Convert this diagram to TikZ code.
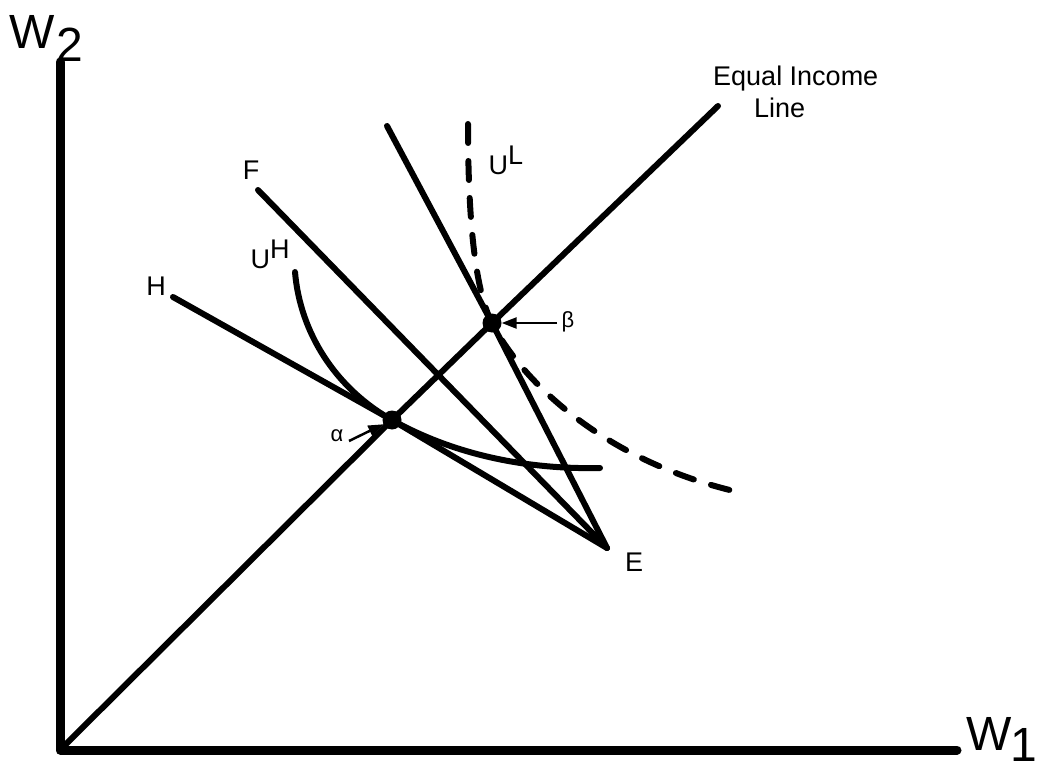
\documentclass[tikz,border=0pt]{standalone}
\usepackage{fontspec}
\setmainfont{Liberation Sans}
\usetikzlibrary{arrows.meta}
\begin{document}
\begin{tikzpicture}[x=1pt,y=-1pt,
  axis/.style={line width=9pt,line cap=round,line join=round},
  thick line/.style={line width=6pt,line cap=round},
  dashline/.style={line width=6pt,line cap=round,dash pattern=on 19pt off 18pt},
  lbl/.style={font=\fontsize{27}{30}\selectfont,inner sep=0pt},
  small lbl/.style={font=\fontsize{22}{24}\selectfont,inner sep=0pt},
  big lbl/.style={font=\fontsize{48}{52}\selectfont,inner sep=0pt,anchor=base west},
  ptr/.style={line width=2.5pt,-{Triangle[length=15pt,width=11pt]}},
  dot/.style={circle,fill=black,inner sep=0pt,minimum size=19pt}]
\useasboundingbox (0,0) rectangle (1039,773);
% axes
\coordinate (O) at (60,750);
\coordinate (Ytop) at (60,62);
\coordinate (Xend) at (957,750);
\draw[axis] (Ytop) -- (O) -- (Xend);
\node[big lbl] (w2) at (9,49) {W\kern2pt\raisebox{-13pt}{2}};
\node[big lbl] (w1) at (966,750) {W\kern-1pt\raisebox{-11pt}{1}};
% key points
\coordinate (E) at (607,548);
\coordinate (Htop) at (173,297);
\coordinate (Ftop) at (258,190);
\coordinate (Ttop) at (387,126);
\coordinate (EItop) at (718,106);
\node[dot] (alpha) at (392,420) {};
\node[dot] (beta) at (492,323) {};
% equal income line
\draw[thick line] (O) -- (alpha.center) -- (beta.center) -- (EItop);
% budget lines
\draw[thick line] (Htop) -- (alpha.center) -- (E);
\draw[thick line] (Ftop) -- (E);
\draw[thick line] (Ttop) -- (beta.center) -- (E);
% indifference curves
\draw[thick line] (295,272) .. controls (300,332) and (335,388) .. (alpha.center)
  .. controls (440,447) and (510,470) .. (600,468);
\draw[dashline] (468,124) .. controls (468,220) and (475,290) .. (beta.center)
  .. controls (520,378) and (600,460) .. (738,492);
% labels
\node[lbl] (lH) at (156,286) {H};
\node[lbl] (lF) at (251,170) {F};
\node[lbl] (lE) at (634,562) {E};
\node[lbl] (lUH) at (270,254) {U\raisebox{10pt}{H}};
\node[lbl] (lUL) at (506,160) {U\raisebox{10pt}{L}};
\node[lbl,anchor=west] (eq1) at (713,79) {Equal Income};
\node[lbl,anchor=west] (eq2) at (754,108) {Line};
\node[small lbl] (la) at (337,436) {α};
\node[small lbl] (lb) at (568,322) {β};
\draw[ptr] (349,441) -- (alpha);
\draw[ptr] (557,323) -- (beta);
\end{tikzpicture}
\end{document}
